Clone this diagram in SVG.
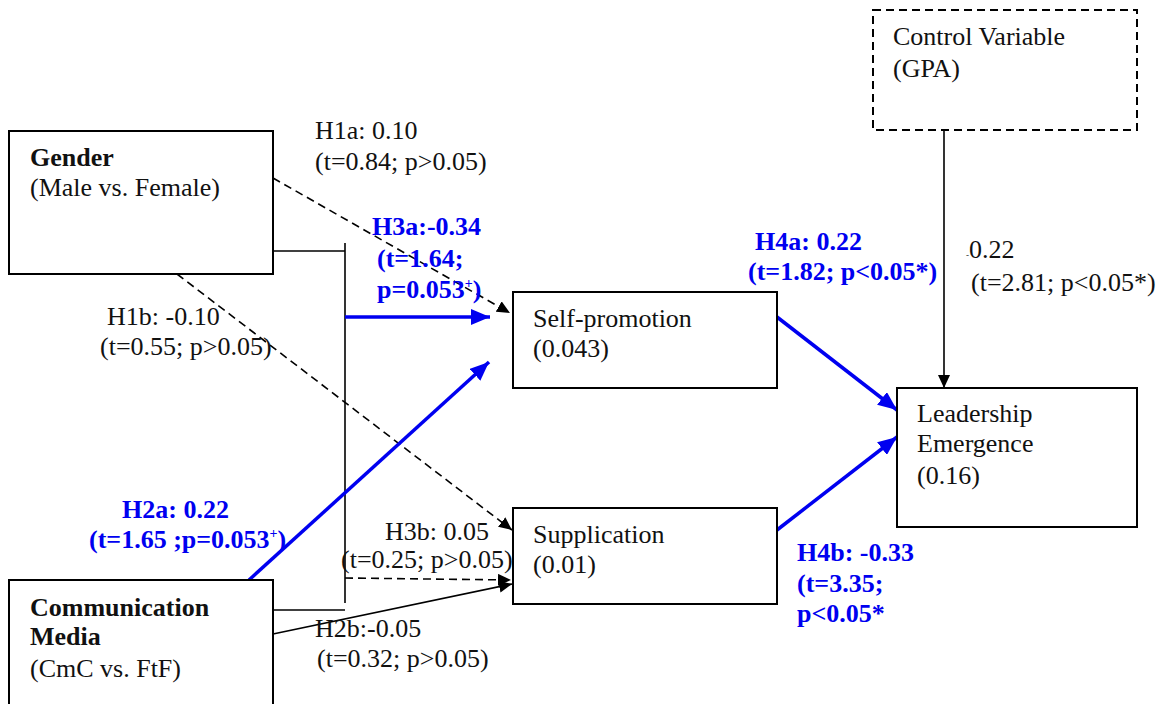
<svg xmlns="http://www.w3.org/2000/svg" width="1166" height="704" viewBox="0 0 1166 704">
<style>
text{font-family:"Liberation Serif","Times New Roman",serif;font-size:26px;fill:#111}
.b{font-weight:bold}
.bl{font-weight:bold;fill:#0000f0}
.box{fill:#fff;stroke:#000;stroke-width:2}
.dbox{fill:#fff;stroke:#000;stroke-width:2;stroke-dasharray:8 5}
.k{stroke:#000;stroke-width:1.6;fill:none}
.kd{stroke:#000;stroke-width:1.6;fill:none;stroke-dasharray:8 5}
.bu{stroke:#0000f0;stroke-width:3.5;fill:none}
</style>
<defs>
<marker id="ak" markerUnits="userSpaceOnUse" markerWidth="14" markerHeight="12" refX="13" refY="6" orient="auto"><path d="M0,0 L13,6 L0,12 z" fill="#000"/></marker>
<marker id="ab" markerUnits="userSpaceOnUse" markerWidth="20" markerHeight="16" refX="19" refY="8" orient="auto"><path d="M0,0 L19,8 L0,16 z" fill="#0000f0"/></marker>
</defs>

<g id="connectors">
<line class="k" x1="273" y1="251" x2="345" y2="251"/>
<line class="k" x1="273" y1="610" x2="345" y2="610"/>
<line class="k" x1="345" y1="243" x2="345" y2="603"/>
<line class="kd" x1="273" y1="178" x2="510" y2="313" marker-end="url(#ak)"/>
<line class="kd" x1="177" y1="274" x2="512" y2="530" marker-end="url(#ak)"/>
<line class="kd" x1="345" y1="578" x2="511" y2="580" marker-end="url(#ak)"/>
<line class="k" x1="273" y1="634" x2="512" y2="584" marker-end="url(#ak)"/>
<line class="bu" x1="345" y1="317" x2="490" y2="317" marker-end="url(#ab)"/>
<line class="bu" x1="249" y1="580" x2="489" y2="362" marker-end="url(#ab)"/>
<line class="bu" x1="777" y1="317" x2="897" y2="410" marker-end="url(#ab)"/>
<line class="bu" x1="777" y1="530" x2="897" y2="437" marker-end="url(#ab)"/>
<line class="k" x1="944" y1="130" x2="944" y2="388" marker-end="url(#ak)"/>
</g>

<g id="gender">
<rect class="box" x="9" y="131" width="264" height="143"/>
<text class="b" x="30" y="166">Gender</text>
<text x="30" y="196">(Male vs. Female)</text>
</g>
<g id="comm">
<rect class="box" x="9" y="580" width="264" height="140"/>
<text class="b" x="30" y="616">Communication</text>
<text class="b" x="30" y="645">Media</text>
<text x="30" y="677">(CmC vs. FtF)</text>
</g>
<g id="selfpromotion">
<rect class="box" x="513" y="292" width="264" height="96"/>
<text x="533" y="327">Self-promotion</text>
<text x="533" y="357">(0.043)</text>
</g>
<g id="supplication">
<rect class="box" x="513" y="508" width="264" height="96"/>
<text x="533" y="543">Supplication</text>
<text x="533" y="573">(0.01)</text>
</g>
<g id="leadership">
<rect class="box" x="897" y="388" width="240" height="139"/>
<text x="917" y="422">Leadership</text>
<text x="917" y="452">Emergence</text>
<text x="917" y="484">(0.16)</text>
</g>
<g id="control">
<rect class="dbox" x="873" y="10" width="264" height="120"/>
<text x="893" y="45">Control Variable</text>
<text x="893" y="77">(GPA)</text>
</g>

<g id="labels">
<text x="315" y="139">H1a: 0.10</text>
<text x="315" y="170">(t=0.84; p&gt;0.05)</text>
<text class="bl" x="372" y="235">H3a:-0.34</text>
<text class="bl" x="377" y="267">(t=1.64;</text>
<text class="bl" x="377" y="298">p=0.053<tspan font-size="14" dy="-10">+</tspan><tspan dy="10">)</tspan></text>
<text x="107" y="325">H1b: -0.10</text>
<text x="100" y="355">(t=0.55; p&gt;0.05)</text>
<text class="bl" x="122" y="518">H2a: 0.22</text>
<text class="bl" x="89" y="548">(t=1.65 ;p=0.053<tspan font-size="14" dy="-10">+</tspan><tspan dy="10">)</tspan></text>
<text x="385" y="540">H3b: 0.05</text>
<text x="341" y="568">(t=0.25; p&gt;0.05)</text>
<text x="315" y="637">H2b:-0.05</text>
<text x="317" y="667">(t=0.32; p&gt;0.05)</text>
<text class="bl" x="755" y="250">H4a: 0.22</text>
<text class="bl" x="748" y="280">(t=1.82; p&lt;0.05*)</text>
<text class="bl" x="797" y="561">H4b: -0.33</text>
<text class="bl" x="797" y="592">(t=3.35;</text>
<text class="bl" x="797" y="622">p&lt;0.05*</text>
<text x="966" y="258"><tspan font-size="9">-</tspan>0.22</text>
<text x="971" y="291">(t=2.81; p&lt;0.05*)</text>
</g>
</svg>
